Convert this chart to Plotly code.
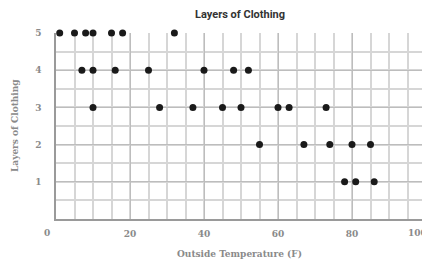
import plotly.graph_objects as go

# Outside temperature (F) and layers of clothing
temps_5 = [1, 5, 8, 10, 15, 18, 32]
temps_4 = [7, 10, 16, 25, 40, 48, 52]
temps_3 = [10, 28, 37, 45, 50, 60, 63, 73]
temps_2 = [55, 67, 74, 80, 85]
temps_1 = [78, 81, 86]

groups = [(5, temps_5), (4, temps_4), (3, temps_3), (2, temps_2), (1, temps_1)]
x_vals = []
y_vals = []
for layers, temps in groups:
    x_vals += temps
    y_vals += [layers] * len(temps)

x_ticks = [20, 40, 60, 80, 100]
y_ticks = [1, 2, 3, 4, 5]

tick_font = dict(family="DejaVu Serif", size=9, color="#8a8a8a")
title_font = dict(family="DejaVu Serif", size=9, color="#8a8a8a")

fig = go.Figure(go.Scatter(
    x=x_vals, y=y_vals, mode="markers",
    marker=dict(color="#1a1a1a", size=7),
    cliponaxis=False, hoverinfo="skip",
))

# The page body adds an 8px offset, so the figure is 8px smaller on each side.
fig.update_layout(
    width=422, height=258,
    margin=dict(l=48, r=4, t=25, b=47, autoexpand=False),
    plot_bgcolor="white", paper_bgcolor="white",
    showlegend=False,
    xaxis=dict(range=[0, 100], tickvals=x_ticks,
               ticktext=[f"<b>{v}</b>" if v < 100 else "" for v in x_ticks],
               tickfont=tick_font, ticks="", ticklabelstandoff=5, automargin=False,
               showgrid=True, gridcolor="#bdbdbd", gridwidth=1,
               minor=dict(dtick=5, showgrid=True, gridcolor="#d6d6d6", gridwidth=1.5),
               showline=True, linecolor="#9a9a9a", linewidth=1.5,
               zeroline=False),
    yaxis=dict(range=[0, 5], tickvals=y_ticks, ticktext=[f"<b>{v}</b>" for v in y_ticks],
               tickfont=tick_font, ticks="", ticklabelstandoff=11, automargin=False,
               showgrid=True, gridcolor="#bdbdbd", gridwidth=1,
               minor=dict(dtick=0.5, showgrid=True, gridcolor="#d6d6d6", gridwidth=1.5),
               showline=True, linecolor="#9a9a9a", linewidth=1.5,
               zeroline=False),
    annotations=[
        dict(text="<b>Layers of Clothing</b>", xref="paper", yref="paper", x=0.497, y=1.102,
             xanchor="center", yanchor="middle", showarrow=False,
             font=dict(family="Roboto", size=11, color="#333333")),
        dict(text="<b>Outside Temperature (F)</b>", xref="paper", yref="paper", x=0.497, y=-0.188,
             xanchor="center", yanchor="middle", showarrow=False, font=title_font),
        dict(text="<b>Layers of Clothing</b>", xref="paper", yref="paper", x=-0.111, y=0.505,
             xanchor="center", yanchor="middle", showarrow=False, textangle=-90, font=title_font),
        dict(text="<b>0</b>", xref="paper", yref="paper", x=-0.024, y=-0.075,
             xanchor="center", yanchor="middle", showarrow=False, font=tick_font),
        dict(text="<b>100</b>", xref="paper", yref="paper", x=1.008, y=-0.075,
             xanchor="right", yanchor="middle", showarrow=False, font=tick_font),
    ],
)

fig.write_html("out.html")
